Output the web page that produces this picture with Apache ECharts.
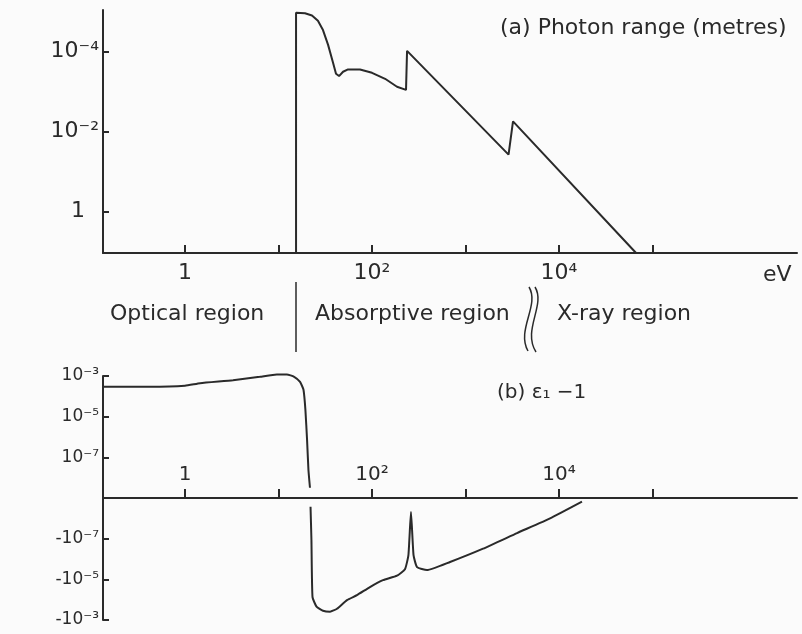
<!DOCTYPE html>
<html>
<head>
<meta charset="utf-8">
<script src="https://cdn.jsdelivr.net/npm/echarts@6/dist/echarts.min.js"></script>
<style>
html,body{margin:0;padding:0;background:#fbfbfb;}
#c{width:802px;height:634px;}
</style>
</head>
<body>
<div id="c"></div>
<script>
// ---- (a) Photon range (metres) vs photon energy (eV)
const rangeEnergy = [15.4, 15.4, 19.2, 22.8, 26.4, 29.9, 33.9, 38.3, 41.2, 44.4, 49, 55.4, 74.4, 100, 138, 185, 231, 237, 2885, 3220, 66700];
const rangeMetres = [11, 1.07e-5, 1.1e-5, 1.25e-5, 1.7e-5, 2.9e-5, 6.8e-5, 1.9e-4, 3.6e-4, 4.1e-4, 3.2e-4, 2.8e-4, 2.8e-4, 3.4e-4, 4.8e-4, 7.6e-4, 9.1e-4, 9.6e-5, 0.038, 5.6e-3, 11];

// ---- (b) eps1 - 1 vs photon energy (eV)
const epsEnergy = [0.133, 0.42, 1, 1.45, 3.26, 6.3, 9.6, 12.3, 14.7, 17, 18.5, 19.4, 20.2, 20.9, 21.7,
                   22, 22.5, 23.1, 25.5, 29.9, 35.6, 42.2, 54, 69, 95, 131, 185, 225, 245, 261, 278, 303, 387, 683, 1540, 3560, 8020, 17600];
const epsValue = [2.95e-4, 2.95e-4, 3.3e-4, 4.4e-4, 6.2e-4, 9.1e-4, 1.2e-3, 1.2e-3, 9.1e-4, 5.1e-4, 2.1e-4, 2.1e-5, 7.2e-7, 2.4e-8, 3.2e-9,
                  -2.7e-9, -1.2e-7, -7.5e-5, -2.2e-4, -3.5e-4, -3.9e-4, -2.8e-4, -1.05e-4, -6e-5, -2.4e-5, -1.1e-5, -6.6e-6, -3.2e-6, -6.5e-7, -4.9e-9, -6.5e-7, -2.5e-6, -3.5e-6, -1.4e-6, -3.1e-7, -5.3e-8, -1e-8, -1.5e-9];

// ---- tick labels
const xTickExp = [0, 1, 2, 3, 4, 5];
const xLabelExp = [0, 2, 4];
const xLabelText = ['1', '10²', '10⁴'];
const rangeTickExp = [-4, -2, 0];
const rangeTickText = ['10⁻⁴', '10⁻²', '1  '];
const epsPosTick = [6, 4, 2];
const epsPosText = ['10⁻³', '10⁻⁵', '10⁻⁷'];
const epsNegTick = [-2, -4, -6];
const epsNegText = ['-10⁻⁷', '-10⁻⁵', '-10⁻³'];

const INK = '#2a2a2a';
const FONT = 'DejaVu Sans';

function lookup(vals, texts) {
  return function (v) {
    for (let i = 0; i < vals.length; i++) if (Math.abs(vals[i] - v) < 1e-6) return texts[i];
    return '';
  };
}
// symmetric log transform: |v| = 1e-9 sits on the zero line
function symlog(v) {
  if (v === 0) return 0;
  return Math.sign(v) * Math.max(0, Math.log10(Math.abs(v)) + 9);
}

const rangeData = rangeEnergy.map((e, i) => [Math.log10(e), Math.log10(rangeMetres[i])]);
const epsPos = [], epsNeg = [];
epsEnergy.forEach((e, i) => {
  const p = [Math.log10(e), symlog(epsValue[i])];
  (epsValue[i] > 0 ? epsPos : epsNeg).push(p);
});

const xMin = -0.877, xMax = 6.545;
function xAxisCfg(gridIndex, mode) {
  const hidden = mode === 'hidden';
  const top = mode === 'top';
  return {
    type: 'value', gridIndex, min: xMin, max: xMax,
    splitLine: { show: false },
    axisLine: { show: !hidden, onZero: false, lineStyle: { color: INK, width: 2 } },
    axisTick: { show: !hidden, inside: true, length: top ? 8 : 9, customValues: xTickExp, lineStyle: { color: INK, width: 2 } },
    axisLabel: {
      show: !hidden, inside: !top, margin: top ? 9 : 13, customValues: xLabelExp,
      formatter: lookup(xLabelExp, xLabelText),
      color: INK, fontFamily: FONT, fontSize: top ? 22 : 20
    }
  };
}
function yAxisCfg(gridIndex, min, max, ticks, texts, fontSize, inverse) {
  return {
    type: 'value', gridIndex, min, max, inverse: !!inverse,
    splitLine: { show: false },
    axisLine: { show: true, onZero: false, lineStyle: { color: INK, width: 2 } },
    axisTick: { show: true, inside: true, length: 6, customValues: ticks, lineStyle: { color: INK, width: 2 } },
    axisLabel: { show: true, margin: 4, customValues: ticks, formatter: lookup(ticks, texts),
      color: INK, fontFamily: FONT, fontSize }
  };
}

const chart = echarts.init(document.getElementById('c'), null, { renderer: 'canvas' });
chart.setOption({
  animation: false,
  backgroundColor: '#fbfbfb',
  grid: [
    { left: 103, top: 10, width: 694, height: 243, outerBoundsMode: 'none', containLabel: false },
    { left: 103, top: 376, width: 694, height: 122, outerBoundsMode: 'none', containLabel: false },
    { left: 103, top: 498, width: 694, height: 122, outerBoundsMode: 'none', containLabel: false }
  ],
  xAxis: [xAxisCfg(0, 'top'), xAxisCfg(1, 'mid'), xAxisCfg(2, 'hidden')],
  yAxis: [
    yAxisCfg(0, -5.04, 1.04, rangeTickExp, rangeTickText, 22, true),
    yAxisCfg(1, 0, 6, epsPosTick, epsPosText, 17),
    yAxisCfg(2, -6, 0, epsNegTick, epsNegText, 17)
  ],
  series: [
    { type: 'line', xAxisIndex: 0, yAxisIndex: 0, data: rangeData, showSymbol: false, smooth: false,
      lineStyle: { color: INK, width: 2 }, clip: true },
    { type: 'line', xAxisIndex: 1, yAxisIndex: 1, data: epsPos, showSymbol: false, smooth: 0.15,
      lineStyle: { color: INK, width: 2 }, clip: false },
    { type: 'line', xAxisIndex: 2, yAxisIndex: 2, data: epsNeg, showSymbol: false, smooth: 0.15,
      lineStyle: { color: INK, width: 2 }, clip: false }
  ],
  graphic: [
    { type: 'text', left: 500, top: 17, style: { text: '(a) Photon range (metres)', fill: INK, font: '22px "DejaVu Sans"' } },
    { type: 'text', left: 763, top: 264, style: { text: 'eV', fill: INK, font: '22px "DejaVu Sans"' } },
    { type: 'text', left: 110, top: 303, style: { text: 'Optical region', fill: INK, font: '22px "DejaVu Sans"' } },
    { type: 'line', shape: { x1: 296, y1: 282, x2: 296, y2: 352 }, style: { stroke: INK, lineWidth: 1.5 } },
    { type: 'text', left: 315, top: 303, style: { text: 'Absorptive region', fill: INK, font: '22px "DejaVu Sans"' } },
    { type: 'bezierCurve', shape: { x1: 529, y1: 287, cpx1: 540, cpy1: 305, cpx2: 516, cpy2: 330, x2: 528, y2: 351 },
      style: { stroke: INK, lineWidth: 1.5, fill: null } },
    { type: 'bezierCurve', shape: { x1: 535, y1: 287, cpx1: 546, cpy1: 305, cpx2: 522, cpy2: 330, x2: 536, y2: 352 },
      style: { stroke: INK, lineWidth: 1.5, fill: null } },
    { type: 'text', left: 557, top: 303, style: { text: 'X-ray region', fill: INK, font: '22px "DejaVu Sans"' } },
    { type: 'text', left: 497, top: 383, style: { text: '(b) ε₁ −1', fill: INK, font: '20px "DejaVu Sans"' } }
  ]
});
</script>
</body>
</html>
